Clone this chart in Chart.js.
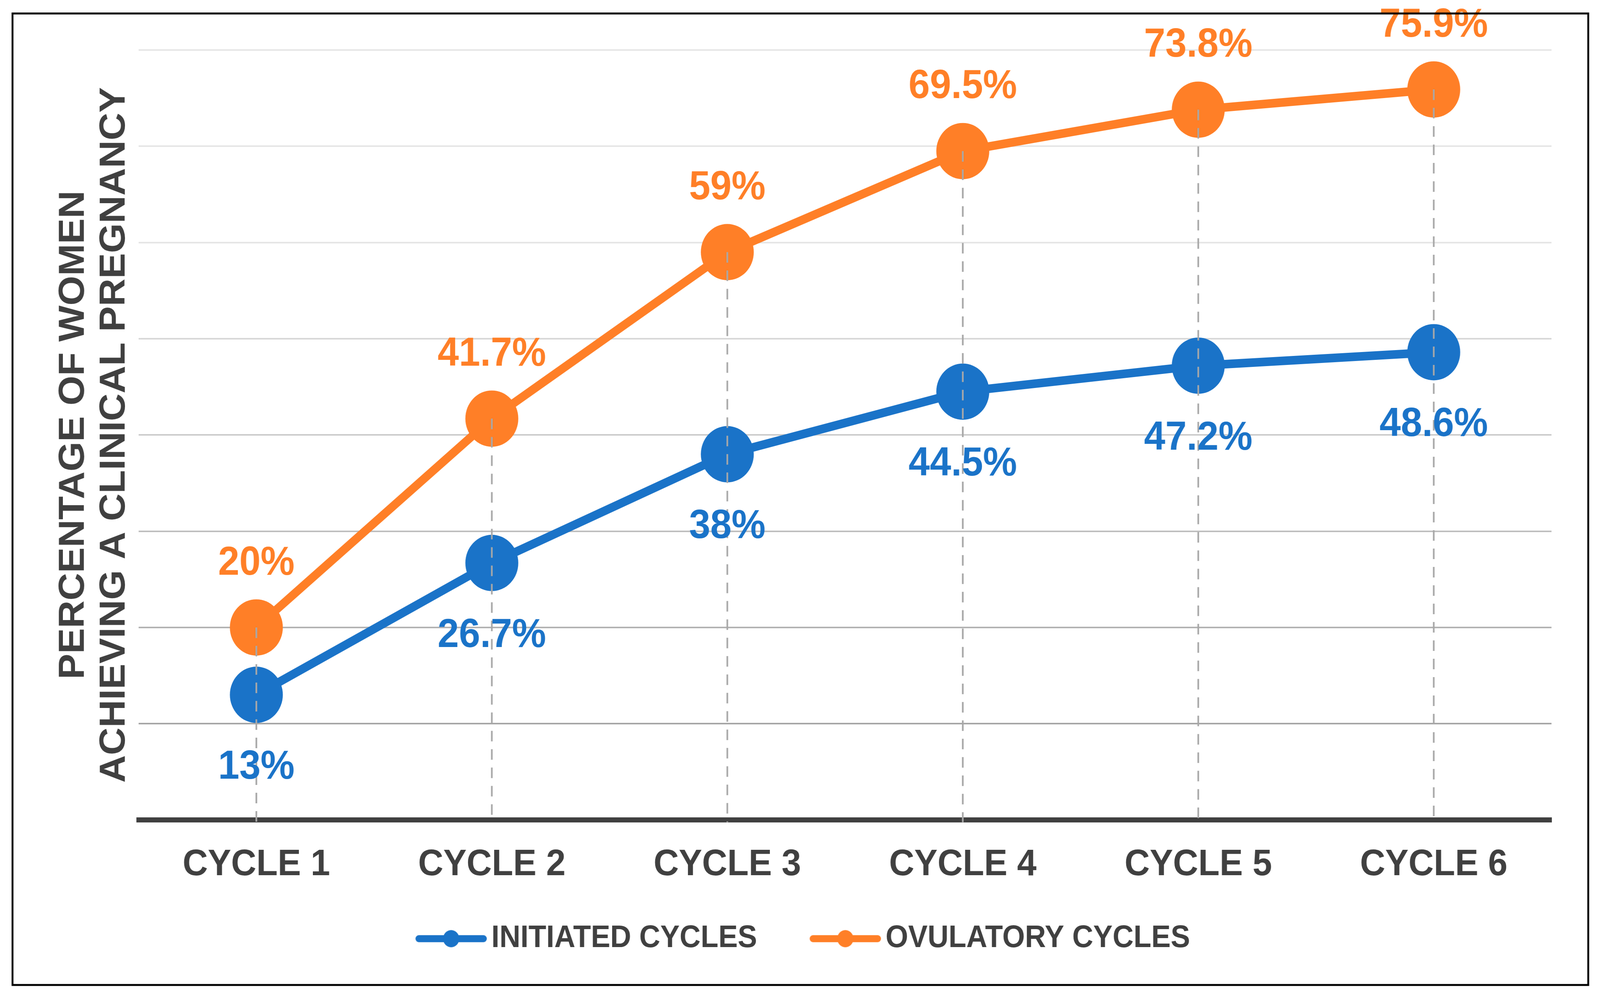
<!DOCTYPE html>
<html>
<head>
<meta charset="utf-8">
<script src="https://cdn.jsdelivr.net/npm/chart.js"></script>
<style>
html,body{margin:0;padding:0;background:#ffffff;overflow:hidden;}
canvas{display:block;transform-origin:0 0;}
</style>
</head>
<body>
<canvas id="chart" width="4352" height="2562" style="width:4352px;height:2562px"></canvas>
<script>
// ---- data ----
const categories = ['CYCLE 1', 'CYCLE 2', 'CYCLE 3', 'CYCLE 4', 'CYCLE 5', 'CYCLE 6'];
const initiatedCycles = [13, 26.7, 38, 44.5, 47.2, 48.6];
const ovulatoryCycles = [20, 41.7, 59, 69.5, 73.8, 75.9];
const seriesNames = ['INITIATED CYCLES', 'OVULATORY CYCLES'];
const yAxisMin = 0;
const yAxisMax = 80;
const yAxisStep = 10;
const yAxisTitle = ['PERCENTAGE OF WOMEN', 'ACHIEVING A CLINICAL PREGNANCY'];

// ---- style ----
const BLUE = '#1A73C8';
const ORANGE = '#FF7F27';
const TEXT = '#404040';
const FONT = "'Liberation Sans', Arial, sans-serif";

// fit the 4352x2562 drawing to the actual viewport
(function fitViewport() {
  const cv = document.getElementById('chart');
  const vw = window.innerWidth || 4352, vh = window.innerHeight || 2562;
  const sx = vw / 4352, sy = vh / 2562;
  if (Math.abs(sx - 1) > 0.002 || Math.abs(sy - 1) > 0.002) {
    cv.style.transform = 'scale(' + sx + ',' + sy + ')';
  }
})();

function makeLegendIcon(color) {
  const c = document.createElement('canvas');
  c.width = 200; c.height = 50;
  const g = c.getContext('2d');
  g.strokeStyle = color;
  g.lineWidth = 18;
  g.lineCap = 'round';
  g.beginPath(); g.moveTo(12, 25); g.lineTo(188, 25); g.stroke();
  g.fillStyle = color;
  g.beginPath(); g.arc(100, 25, 22, 0, Math.PI * 2); g.fill();
  return c;
}
const legendIcons = [makeLegendIcon(BLUE), makeLegendIcon(ORANGE)];

const framePlugin = {
  id: 'frame',
  beforeDraw(chart) {
    const ctx = chart.ctx;
    ctx.save();
    ctx.fillStyle = '#ffffff';
    ctx.fillRect(0, 0, chart.width, chart.height);
    ctx.restore();
  },
  afterDraw(chart) {
    const ctx = chart.ctx;
    ctx.save();
    ctx.strokeStyle = '#000000';
    ctx.lineWidth = 5;
    ctx.strokeRect(34, 34.5, 4286, 2486.5);
    ctx.restore();
  }
};

const dropAndLabelPlugin = {
  id: 'dropAndLabels',
  afterDatasetsDraw(chart) {
    const ctx = chart.ctx;
    const xs = chart.scales.x, ys = chart.scales.y;
    ctx.save();
    // drop lines from the highest point down to the axis
    ctx.strokeStyle = '#A8A8A8';
    ctx.lineWidth = 4.5;
    ctx.setLineDash([27, 20]);
    categories.forEach((c, j) => {
      const top = Math.max(...chart.data.datasets.map(d => d.data[j]));
      const x = xs.getPixelForValue(j);
      ctx.beginPath();
      ctx.moveTo(x, ys.getPixelForValue(top));
      ctx.lineTo(x, ys.getPixelForValue(yAxisMin) + 6);
      ctx.stroke();
    });
    ctx.setLineDash([]);
    // value labels
    ctx.font = 'bold 104px ' + FONT;
    ctx.textAlign = 'center';
    ctx.textBaseline = 'middle';
    chart.data.datasets.forEach((ds, i) => {
      const meta = chart.getDatasetMeta(i);
      ctx.fillStyle = ds.borderColor;
      meta.data.forEach((pt, j) => {
        const off = ds.labelPos === 'above' ? -164 : 186;
        ctx.fillText(String(ds.data[j]) + '%', pt.x, pt.y + off);
      });
    });
    ctx.restore();
  }
};

new Chart(document.getElementById('chart'), {
  type: 'line',
  data: {
    labels: categories,
    datasets: [
      {
        label: seriesNames[0], data: initiatedCycles, labelPos: 'below',
        borderColor: BLUE, backgroundColor: BLUE, pointBackgroundColor: BLUE,
        borderWidth: 22, pointRadius: 72, pointHoverRadius: 72, pointBorderWidth: 0,
        tension: 0, clip: false
      },
      {
        label: seriesNames[1], data: ovulatoryCycles, labelPos: 'above',
        borderColor: ORANGE, backgroundColor: ORANGE, pointBackgroundColor: ORANGE,
        borderWidth: 22, pointRadius: 72, pointHoverRadius: 72, pointBorderWidth: 0,
        tension: 0, clip: false
      }
    ]
  },
  options: {
    responsive: false,
    devicePixelRatio: 1,
    animation: false,
    events: [],
    layout: { padding: { top: 128, left: 100, right: 58, bottom: 110 } },
    plugins: {
      tooltip: { enabled: false },
      legend: {
        position: 'bottom',
        labels: {
          usePointStyle: true,
          pointStyleWidth: 140,
          boxHeight: 50,
          padding: 170,
          color: TEXT,
          font: { family: FONT, weight: 'bold', size: 79 },
          generateLabels(chart) {
            const items = Chart.defaults.plugins.legend.labels.generateLabels(chart);
            items.forEach((it, i) => { it.pointStyle = legendIcons[i]; it.lineWidth = 0; });
            return items;
          }
        }
      }
    },
    scales: {
      x: {
        type: 'category',
        offset: true,
        grid: { display: false, drawTicks: false },
        border: { display: true, color: TEXT, width: 13 },
        ticks: { color: TEXT, font: { family: FONT, weight: 'bold', size: 95 }, padding: 58, maxRotation: 0 },
        afterFit(s) {
          s.height = 94.5;
          // let the tick labels run below the (short) axis box without being clipped
          s._computeLabelArea = function () { return undefined; };
        }
      },
      y: {
        min: yAxisMin, max: yAxisMax,
        ticks: { display: false, stepSize: yAxisStep },
        grid: {
          drawTicks: false,
          lineWidth: 4,
          color(ctx) {
            const v = ctx.tick ? ctx.tick.value : 0;
            const g = Math.round(Math.min(230, 166 + (v - 10) * 1.25));
            return 'rgb(' + g + ',' + g + ',' + g + ')';
          }
        },
        border: { display: false },
        title: {
          display: true, text: yAxisTitle, color: TEXT,
          font: { family: FONT, weight: 'bold', size: 98, lineHeight: 1.13 },
          padding: { top: 46, bottom: 0 }
        },
        afterFit(s) { s.width = 277; }
      },
      yRight: {
        type: 'linear', position: 'right', display: true,
        grid: { display: false, drawTicks: false },
        ticks: { display: false },
        border: { display: false },
        afterFit(s) { s.width = 74; }
      }
    }
  },
  plugins: [framePlugin, dropAndLabelPlugin]
});
</script>
</body>
</html>
